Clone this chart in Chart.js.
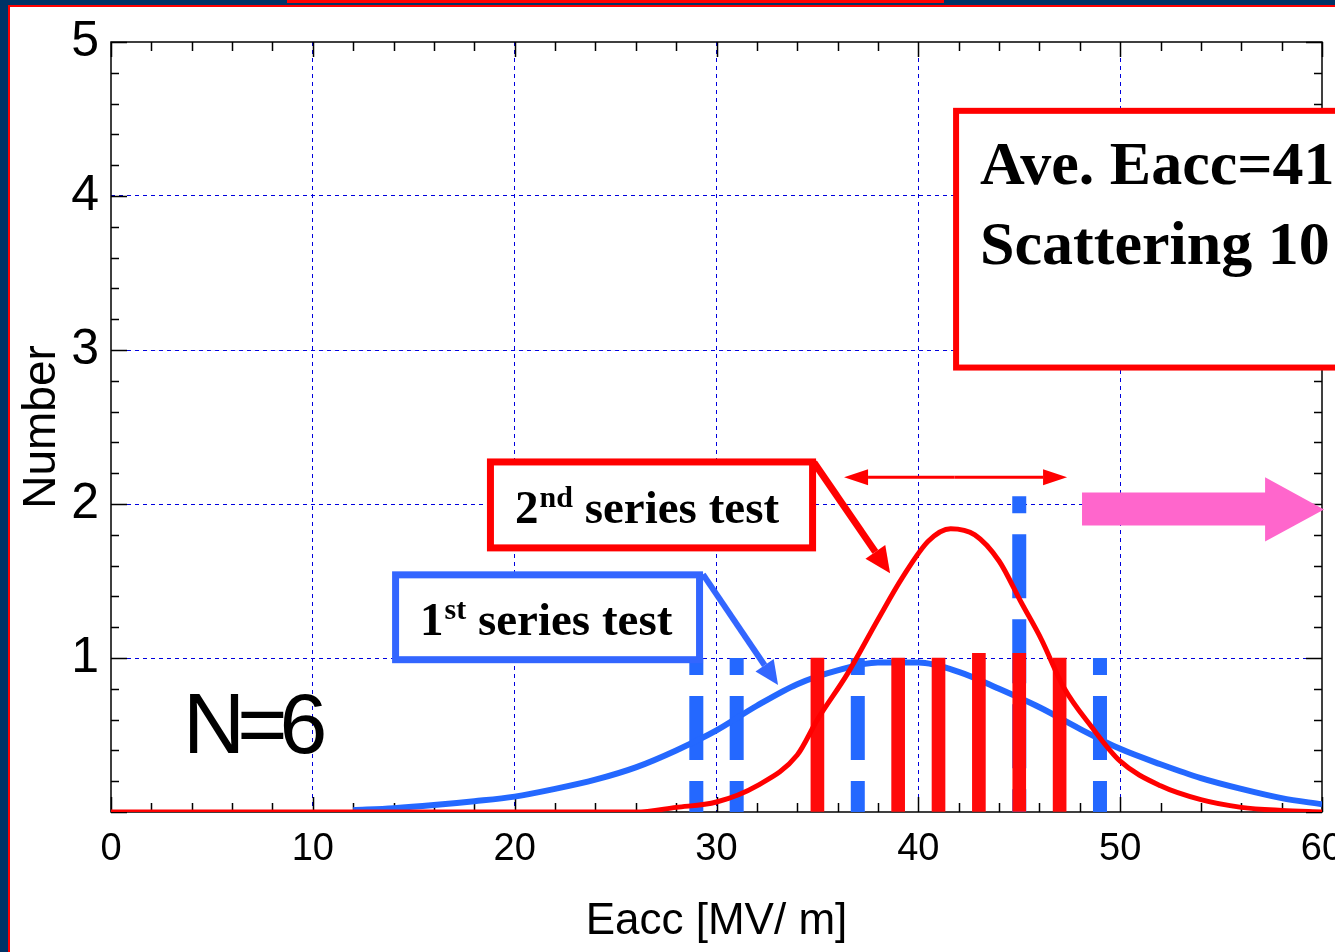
<!DOCTYPE html>
<html>
<head>
<meta charset="utf-8">
<title>Eacc distribution</title>
<script src="https://cdn.jsdelivr.net/npm/chart.js@4.4.1/dist/chart.umd.min.js"></script>
<style>
  html, body { margin: 0; padding: 0; background: #fff; overflow: hidden; }
  canvas { display: block; }
</style>
</head>
<body>
<canvas id="chart" width="1335" height="952"></canvas>
<script>
// 1st series test (dashed blue bars)
const firstX = [29, 31, 37, 45, 49];
const firstCount = [1, 1, 1, 2.05, 1];
// 2nd series test (solid red bars)
const secondX = [35, 39, 41, 43, 45, 47];
const secondCount = [1, 1, 1, 1.03, 1.03, 1];
// distribution curves
const firstFitX = [12, 14, 16, 18, 20, 22, 24, 26, 28, 30, 32, 34, 36, 38, 40, 42, 44, 46, 48, 50, 52, 54, 56, 58, 60];
const firstFitY = [0.012, 0.025, 0.045, 0.07, 0.10, 0.15, 0.21, 0.29, 0.40, 0.53, 0.69, 0.83, 0.92, 0.97, 0.97, 0.91, 0.80, 0.68, 0.54, 0.41, 0.31, 0.22, 0.15, 0.09, 0.05];
const secondFitX = [0, 26, 28, 30, 32, 34, 35, 36.5, 38, 39.2, 40.5, 41.6, 42.8, 44, 45.1, 46.1, 47.2, 48.6, 50, 52, 54, 56, 58, 60];
const secondFitY = [0, 0, 0.03, 0.065, 0.17, 0.37, 0.6, 0.9, 1.25, 1.52, 1.76, 1.84, 1.8, 1.63, 1.36, 1.12, 0.81, 0.55, 0.33, 0.17, 0.08, 0.03, 0.01, 0];
// axes
const xTicks = [0, 10, 20, 30, 40, 50, 60];
const yTicks = [0, 1, 2, 3, 4, 5];
const yTickLabels = ['', '1', '2', '3', '4', '5'];

const RED = '#ff0000';
const BLUE = '#2468ff';
const BOXBLUE = '#3366ff';
const PINK = '#ff66cc';
const NAVY = '#003366';

function pts(xs, ys) { return xs.map((x, i) => ({ x: x, y: ys[i] })); }

const datasets = [
  { type: 'line', label: '2nd fit', data: pts(secondFitX, secondFitY), borderColor: RED, borderWidth: 5,
    pointRadius: 0, cubicInterpolationMode: 'monotone', order: 0 },
  { type: 'bar', label: '2nd series test', data: pts(secondX, secondCount), backgroundColor: '#ff0a0a',
    barThickness: 13, grouped: false, order: 1 },
  { type: 'line', label: '1st fit', data: pts(firstFitX, firstFitY), borderColor: BLUE, borderWidth: 6,
    pointRadius: 0, cubicInterpolationMode: 'monotone', order: 2 }
].concat(firstX.map((x, i) => ({
  type: 'line', label: '1st series test', data: [{ x: x, y: firstCount[i] }, { x: x, y: 0 }],
  borderColor: BLUE, borderWidth: 14, borderDash: [64, 21], borderDashOffset: 47,
  borderCapStyle: 'butt', pointRadius: 0, order: 3
})));

// background frame of the slide
const frame = {
  id: 'frame',
  beforeDraw(chart) {
    const c = chart.ctx;
    c.save();
    c.fillStyle = '#fff';
    c.fillRect(0, 0, chart.width, chart.height);
    c.fillStyle = NAVY;
    c.fillRect(0, 0, 8, chart.height);
    c.fillRect(0, 0, chart.width, 5);
    c.fillStyle = RED;
    c.fillRect(8, 5, 2, chart.height);
    c.fillRect(8, 5, chart.width, 2);
    c.fillRect(287, 0, 657, 3);
    c.restore();
  }
};

// plot box with inward tick marks on all four sides
const box = {
  id: 'box',
  beforeDatasetsDraw(chart) {
    const c = chart.ctx, a = chart.chartArea, sx = chart.scales.x, sy = chart.scales.y;
    c.save();
    c.strokeStyle = '#000';
    c.lineWidth = 1.5;
    c.strokeRect(a.left, a.top, a.right - a.left, a.bottom - a.top);
    c.beginPath();
    for (let v = 0; v <= 60; v += 2) {
      const p = Math.round(sx.getPixelForValue(v)) + 0.5;
      const len = v % 10 === 0 ? 15 : 9;
      c.moveTo(p, a.bottom); c.lineTo(p, a.bottom - len);
      c.moveTo(p, a.top); c.lineTo(p, a.top + len);
    }
    for (let i = 0; i <= 25; i++) {
      const p = Math.round(sy.getPixelForValue(i * 0.2)) + 0.5;
      const len = i % 5 === 0 ? 16 : 8;
      c.moveTo(a.left, p); c.lineTo(a.left + len, p);
      c.moveTo(a.right, p); c.lineTo(a.right - len, p);
    }
    c.stroke();
    c.restore();
  }
};

function arrow(c, x1, y1, x2, y2, w, hl, hw, color) {
  const ang = Math.atan2(y2 - y1, x2 - x1);
  const bx = x2 - hl * Math.cos(ang), by = y2 - hl * Math.sin(ang);
  c.strokeStyle = color; c.fillStyle = color; c.lineWidth = w; c.lineCap = 'butt';
  c.beginPath(); c.moveTo(x1, y1); c.lineTo(bx, by); c.stroke();
  const nx = -Math.sin(ang) * hw / 2, ny = Math.cos(ang) * hw / 2;
  c.beginPath(); c.moveTo(x2, y2); c.lineTo(bx + nx, by + ny); c.lineTo(bx - nx, by - ny); c.closePath(); c.fill();
}

function supText(c, x, y, big, sup, rest, size, supSize, rise) {
  c.font = 'bold ' + size + 'px "Liberation Serif", "Times New Roman", serif';
  c.fillText(big, x, y);
  x += c.measureText(big).width + 1;
  c.font = 'bold ' + supSize + 'px "Liberation Serif", "Times New Roman", serif';
  c.fillText(sup, x, y - rise);
  x += c.measureText(sup).width;
  c.font = 'bold ' + size + 'px "Liberation Serif", "Times New Roman", serif';
  c.fillText(rest, x, y);
}

// callouts placed in data units
const notes = {
  id: 'notes',
  afterDraw(chart) {
    const c = chart.ctx, sx = chart.scales.x, sy = chart.scales.y;
    const X = v => sx.getPixelForValue(v), Y = v => sy.getPixelForValue(v);
    c.save();
    c.textBaseline = 'alphabetic';
    c.textAlign = 'left';

    // average box
    c.fillStyle = '#fff';
    c.fillRect(X(41.87), Y(4.553), X(61) - X(41.87), Y(2.886) - Y(4.553));
    c.strokeStyle = RED; c.lineWidth = 6;
    c.strokeRect(X(41.87), Y(4.553), X(61) - X(41.87), Y(2.886) - Y(4.553));
    c.fillStyle = '#000';
    c.font = 'bold 62px "Liberation Serif", "Times New Roman", serif';
    c.fillText('Ave. Eacc=41.7 MV/m', X(43.06), Y(4.079));
    c.fillText('Scattering 10%', X(43.06), Y(3.560));

    // 2nd series box
    c.fillStyle = '#fff';
    c.fillRect(X(18.8), Y(2.273), X(34.76) - X(18.8), Y(1.715) - Y(2.273));
    c.strokeStyle = RED; c.lineWidth = 7;
    c.strokeRect(X(18.8), Y(2.273), X(34.76) - X(18.8), Y(1.715) - Y(2.273));
    c.fillStyle = '#000';
    supText(c, X(20.02), Y(1.874), '2', 'nd', ' series test', 47, 30, 16);
    arrow(c, X(34.83), Y(2.27), X(38.6), Y(1.55), 7, 26, 24, RED);

    // 1st series box
    c.fillStyle = '#fff';
    c.fillRect(X(14.1), Y(1.54), X(29.16) - X(14.1), Y(0.989) - Y(1.54));
    c.strokeStyle = BOXBLUE; c.lineWidth = 7;
    c.strokeRect(X(14.1), Y(1.54), X(29.16) - X(14.1), Y(0.989) - Y(1.54));
    c.fillStyle = '#000';
    supText(c, X(15.31), Y(1.148), '1', 'st', ' series test', 47, 30, 16);
    arrow(c, X(29.33), Y(1.543), X(33.05), Y(0.824), 6, 24, 22, BOXBLUE);

    // scatter span arrow
    arrow(c, X(41.8), Y(2.173), X(47.37), Y(2.173), 3, 24, 16, RED);
    arrow(c, X(41.8), Y(2.173), X(36.32), Y(2.173), 3, 24, 16, RED);

    // big pink arrow
    c.fillStyle = PINK;
    c.beginPath();
    c.moveTo(X(48.11), Y(2.075));
    c.lineTo(X(57.18), Y(2.075));
    c.lineTo(X(57.18), Y(2.173));
    c.lineTo(X(60.1), Y(1.965));
    c.lineTo(X(57.18), Y(1.757));
    c.lineTo(X(57.18), Y(1.861));
    c.lineTo(X(48.11), Y(1.861));
    c.closePath();
    c.fill();

    // sample size
    c.fillStyle = '#000';
    c.font = '86px "Liberation Sans", Arial, sans-serif';
    c.letterSpacing = '-8px';
    c.fillText('N=6', X(3.57), Y(0.383));
    c.restore();
  }
};

const chart = new Chart(document.getElementById('chart').getContext('2d'), {
  type: 'line',
  data: { datasets: datasets },
  options: {
    responsive: false,
    animation: false,
    events: [],
    layout: { padding: { top: 41, right: 13, left: 0, bottom: 0 } },
    plugins: { legend: { display: false }, tooltip: { enabled: false } },
    scales: {
      x: {
        type: 'linear', min: 0, max: 60, offset: false,
        afterBuildTicks: s => { s.ticks = xTicks.map(v => ({ value: v })); },
        afterFit: s => { s.height = 140; s.paddingLeft = 0; s.paddingRight = 0; },
        ticks: { color: '#000', padding: 15, maxRotation: 0, autoSkip: false,
                 font: { family: '"Liberation Sans", Arial, sans-serif', size: 38 } },
        grid: { offset: false, drawTicks: false, lineWidth: 1,
                color: c => (c.tick && (c.tick.value === 0 || c.tick.value === 60)) ? 'rgba(0,0,0,0)' : '#0000dd' },
        border: { display: false, dash: [4, 4] },
        title: { display: true, text: 'Eacc [MV/ m]', color: '#000', padding: { top: 0, bottom: 4 },
                 font: { family: '"Liberation Sans", Arial, sans-serif', size: 44 } }
      },
      y: {
        min: 0, max: 5,
        afterBuildTicks: s => { s.ticks = yTicks.map(v => ({ value: v })); },
        afterFit: s => { s.width = 111; },
        ticks: { color: '#000', padding: 12, autoSkip: false,
                 callback: (v, i) => yTickLabels[i],
                 font: { family: '"Liberation Sans", Arial, sans-serif', size: 50 } },
        grid: { drawTicks: false, lineWidth: 1,
                color: c => (c.tick && (c.tick.value === 0 || c.tick.value === 5)) ? 'rgba(0,0,0,0)' : '#0000dd' },
        border: { display: false, dash: [4, 4] },
        title: { display: true, text: 'Number', color: '#000', padding: { top: 15, bottom: 0 },
                 font: { family: '"Liberation Sans", Arial, sans-serif', size: 46 } }
      }
    }
  },
  plugins: [frame, box, notes]
});
</script>
</body>
</html>
